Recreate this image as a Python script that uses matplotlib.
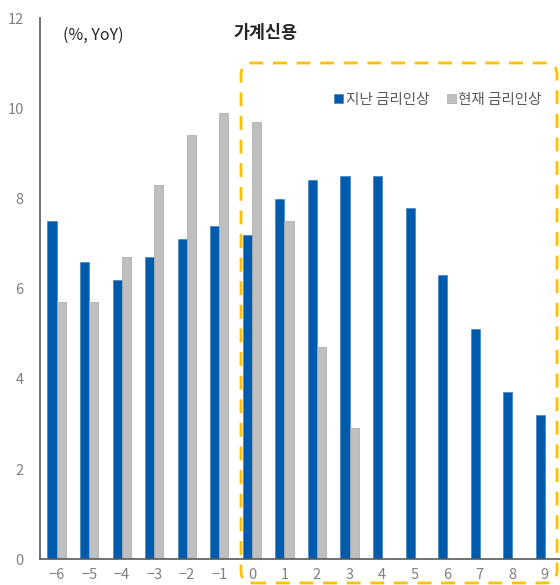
import matplotlib
matplotlib.use('Agg')
import matplotlib.pyplot as plt
from matplotlib.patches import FancyBboxPatch
import numpy as np

plt.rcParams['font.family'] = ['Noto Sans CJK KR', 'DejaVu Sans']

# 금리인상 시점 기준 (분기)
periods = [-6, -5, -4, -3, -2, -1, 0, 1, 2, 3, 4, 5, 6, 7, 8, 9]
past_hike = [7.5, 6.6, 6.2, 6.7, 7.1, 7.4, 7.2, 8.0, 8.4, 8.5, 8.5, 7.8, 6.3, 5.1, 3.7, 3.2]
now_periods = [-6, -5, -4, -3, -2, -1, 0, 1, 2, 3]
now_hike = [5.7, 5.7, 6.7, 8.3, 9.4, 9.9, 9.7, 7.5, 4.7, 2.9]
tick_labels = ['\u22126', '\u22125', '\u22124', '\u22123', '\u22122', '\u22121',
               '0', '1', '2', '3', '4', '5', '6', '7', '8', '9']

fig = plt.figure(figsize=(5.6, 5.85), dpi=100)
ax = fig.add_axes([0.072, 0.044, 0.93, 0.925])

w = 0.28
x = np.array(periods)
xn = np.array(now_periods)
ax.bar(x - w / 2, past_hike, width=w, color='#005BAC', edgecolor='#3D85C6',
       linewidth=0.5, label='지난 금리인상')
ax.bar(xn + w / 2, now_hike, width=w, color='#BFBFBF', edgecolor='#A6A6A6',
       linewidth=0.5, label='현재 금리인상')

ax.set_xlim(-6.5, 9.5)
ax.set_ylim(0, 12)
ax.set_yticks(range(0, 13, 2))
ax.set_xticks(periods)
ax.set_xticklabels(tick_labels)
ax.tick_params(length=0, colors='#808080', labelsize=10.5)
ax.tick_params(axis='y', pad=12)
ax.tick_params(axis='x', pad=6)
for s in ['top', 'right']:
    ax.spines[s].set_visible(False)
for s in ['left', 'bottom']:
    ax.spines[s].set_color('#595959')
    ax.spines[s].set_linewidth(1.2)

fig.text(63 / 560, 1 - 35 / 585, '(%, YoY)', fontsize=11.5, color='#262626',
         va='center', ha='left')
fig.text(233 / 560, 1 - 33 / 585, '가계신용', fontsize=12.5, fontweight='bold',
         color='#262626', va='center', ha='left')

# 점선 박스
box = FancyBboxPatch((241 / 560, 1 - 583 / 585), (557 - 241) / 560, (583 - 63) / 585,
                     boxstyle='round,pad=0,rounding_size=0.02',
                     transform=fig.transFigure, fill=False, edgecolor='#FFC000',
                     linewidth=2, linestyle=(0, (5, 3.5)), clip_on=False)
fig.patches.append(box)

leg = ax.legend(loc='center', bbox_to_anchor=(438 / 560, 1 - 100 / 585),
                bbox_transform=fig.transFigure, ncol=2, frameon=False,
                fontsize=10.5, handlelength=0.6, handleheight=0.6,
                handletextpad=0.2, columnspacing=1.2)
for t in leg.get_texts():
    t.set_color('#595959')

plt.savefig('out.png', dpi=100)
